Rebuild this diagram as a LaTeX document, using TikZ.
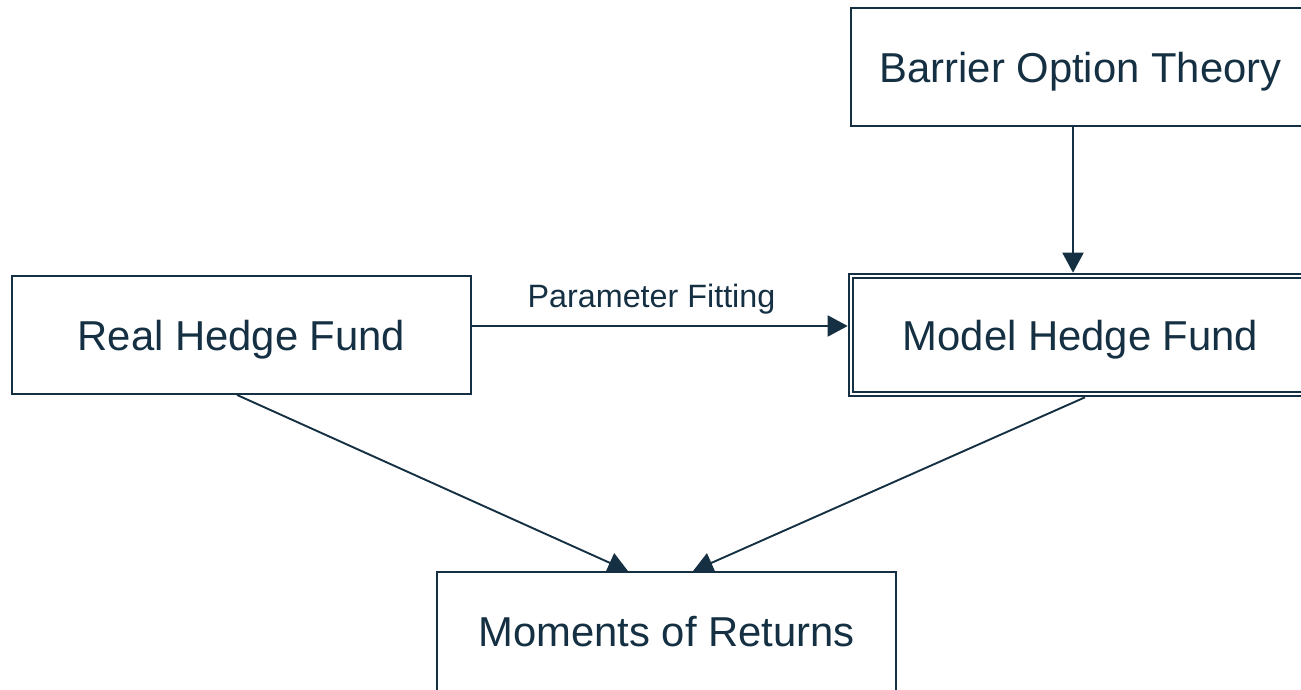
\documentclass[tikz,border=0pt]{standalone}
\usepackage{fontspec}
\setmainfont{Liberation Sans}
\usetikzlibrary{arrows.meta}
\definecolor{ink}{RGB}{20,48,66}
\tikzset{
  box/.style={draw=ink, line width=1.9pt, fill=white, text=ink,
    minimum width=459pt, minimum height=118pt, inner sep=0pt,
    font=\fontsize{41.8}{50}\selectfont},
  dbox/.style={box, double=white, double distance=2.8pt, outer sep=3.3pt},
  arr/.style={draw=ink, line width=1.9pt, -{Triangle[length=20pt,width=21pt]}},
  lbl/.style={text=ink, font=\fontsize{32.3}{38}\selectfont, inner sep=0pt}
}
% lower the visible text while keeping the box size unchanged
\newcommand{\lowered}[1]{\raisebox{-5pt}[\height][\depth]{#1}}
\begin{document}
\begin{tikzpicture}[x=1pt,y=-1pt]
  \useasboundingbox (0,0) rectangle (1301,690);
  \clip (0,0) rectangle (1301,690);

  % the four boxes
  \node[box]  (barrier) at (1080.5,67)  {\lowered{Barrier Option Theory}};
  \node[box]  (real)    at (241.5,335)  {\lowered{Real Hedge Fund}};
  \node[dbox] (model)   at (1080.5,335) {\lowered{Model Hedge Fund}};
  \node[box, minimum height=119pt] (moments) at (666.5,631.5) {Moments of Returns};

  % guide points for the connectors
  \coordinate (bx) at (1073,0);
  \coordinate (hy) at (0,326);
  \coordinate (rs) at (237,0);
  \coordinate (ms) at (1085,0);
  \coordinate (ml) at (628,0);
  \coordinate (mr) at (693,0);

  % connectors
  \draw[arr] (barrier.south -| bx) -- (model.north -| bx);
  \draw[arr] (real.east |- hy) -- (model.west |- hy);
  \draw[arr] (real.south -| rs) -- (moments.north -| ml);
  \draw[arr] (model.south -| ms) -- (moments.north -| mr);

  % label of the horizontal connector
  \node[lbl, anchor=base] (fit) at (651.5,307) {Parameter Fitting};
\end{tikzpicture}
\end{document}
